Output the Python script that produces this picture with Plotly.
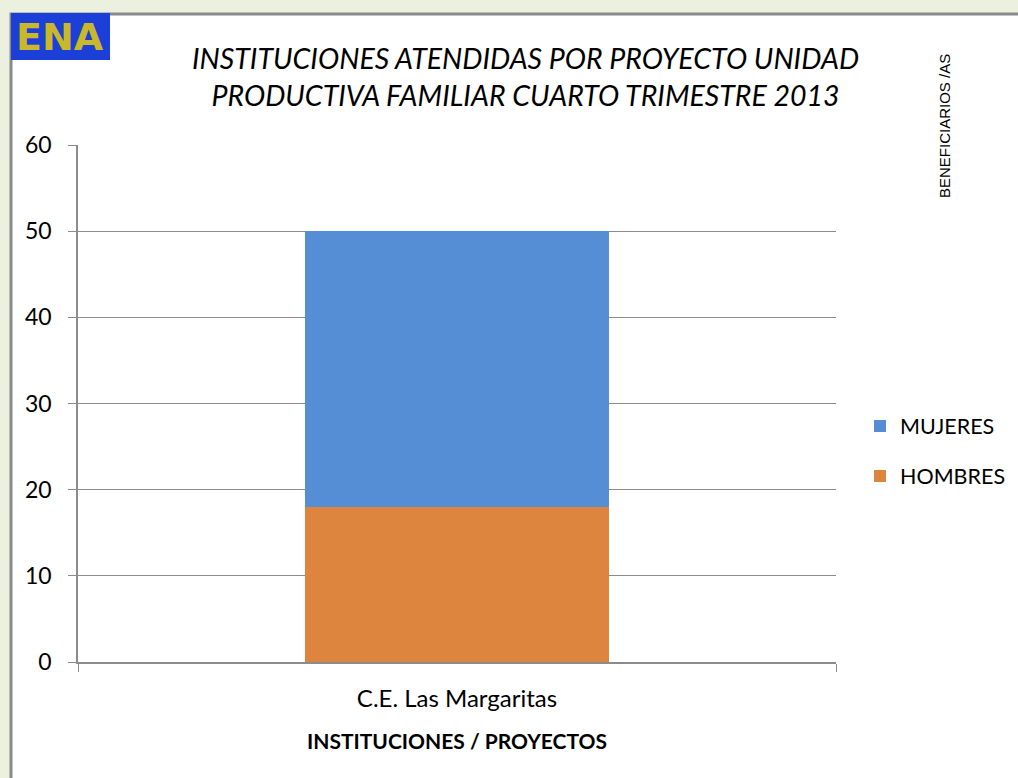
import plotly.graph_objects as go

categories = ["C.E. Las Margaritas"]
hombres = [18]
mujeres = [32]
y_ticks = [0, 10, 20, 30, 40, 50, 60]

FONT = "Lato, Open Sans, sans-serif"
GRID = "#8C8C8C"
BG = "#EBF1DE"

fig = go.Figure()
fig.add_trace(go.Bar(x=categories, y=hombres, name="HOMBRES", marker_color="#DD843F",
                     marker_line_width=0, legendgroup="h", legendrank=2))
fig.add_trace(go.Bar(x=categories, y=mujeres, name="MUJERES", marker_color="#558ED5",
                     marker_line_width=0, legendgroup="m", legendrank=1))

L, R, T, B = 78, 836, 145, 662
W, H = 1018, 778
pw, ph = R - L, B - T

def px(x):
    return (x - L) / pw

def py(y):
    return (B - y) / ph

fig.update_layout(
    width=W, height=H, autosize=False,
    margin=dict(l=L, r=W - R, t=T, b=H - B, autoexpand=False),
    paper_bgcolor=BG,
    plot_bgcolor="white",
    barmode="stack",
    bargap=0.6,
    font=dict(family=FONT, color="#000000"),
    showlegend=True,
    legend=dict(x=px(860), y=py(451), xanchor="left", yanchor="middle",
                traceorder="grouped", font=dict(size=21.5, family=FONT),
                itemwidth=30, tracegroupgap=19, bgcolor="rgba(0,0,0,0)"),
    xaxis=dict(
        showgrid=False, showline=True, linecolor=GRID, linewidth=1.5,
        ticks="outside", tickson="boundaries", ticklen=8, tickcolor=GRID,
        tickfont=dict(size=24, family=FONT), ticklabelstandoff=14,
        title=dict(text="<b>INSTITUCIONES / PROYECTOS</b>", font=dict(size=21, family=FONT), standoff=24),
    ),
    yaxis=dict(
        range=[0, 60], tickvals=y_ticks, showgrid=True, gridcolor=GRID, gridwidth=1,
        showline=True, linecolor=GRID, linewidth=1.5, ticks="outside", ticklen=8,
        tickcolor=GRID, tickfont=dict(size=23, family=FONT), zeroline=False,
        ticklabelstandoff=12,
    ),
    shapes=[
        dict(type="rect", xref="paper", yref="paper",
             x0=px(11), x1=px(1030), y0=py(14), y1=py(800),
             fillcolor="white", line=dict(color="#8A8A8A", width=3), layer="below"),
        dict(type="rect", xref="paper", yref="paper",
             x0=px(11), x1=px(110), y0=py(13), y1=py(60),
             fillcolor="#1C3FD8", line=dict(width=0), layer="above"),
    ],
    annotations=[
        dict(text="<i>INSTITUCIONES ATENDIDAS POR PROYECTO UNIDAD<br>PRODUCTIVA FAMILIAR CUARTO TRIMESTRE 2013</i>",
             xref="paper", yref="paper", x=px(525), y=py(77), xanchor="center", yanchor="middle",
             showarrow=False, font=dict(size=28.5, family=FONT), align="center"),
        dict(text="BENEFICIARIOS /AS", xref="paper", yref="paper", x=px(945), y=py(126),
             xanchor="center", yanchor="middle", textangle=-90, showarrow=False,
             font=dict(size=15, family="Liberation Sans Narrow, Liberation Sans, sans-serif")),
        dict(text="<b>ENA</b>", xref="paper", yref="paper", x=px(60), y=py(37),
             xanchor="center", yanchor="middle", showarrow=False,
             font=dict(size=38, family="DejaVu Sans, sans-serif", color="#C9B82A")),
    ],
)

fig.write_html(
    "out.html",
    config={"responsive": False, "displayModeBar": False},
    post_script=(
        "document.documentElement.style.overflow='hidden';"
        "document.body.style.overflow='hidden';"
        "document.body.style.margin='0';"
        "document.body.style.background='" + BG + "';"
    ),
)
